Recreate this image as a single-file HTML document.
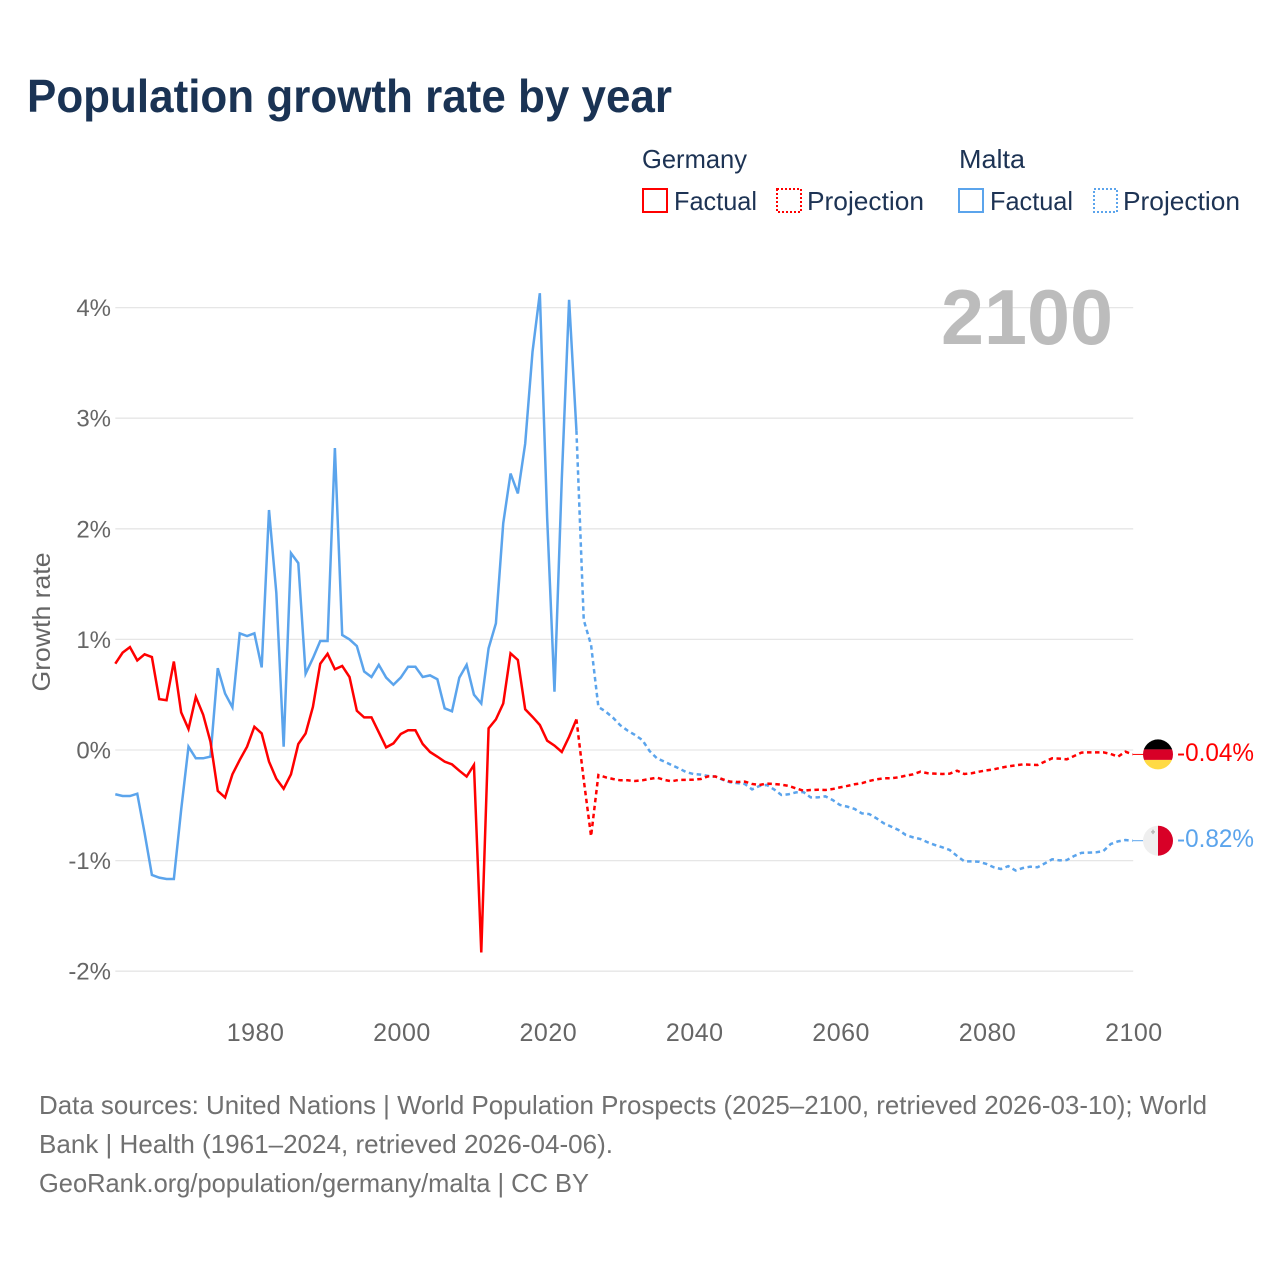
<!DOCTYPE html>
<html lang="en">
<head>
<meta charset="utf-8">
<title>Population growth rate by year</title>
<style>
  html, body { margin: 0; padding: 0; background: #fff; }
  svg { display: block; font-family: "Liberation Sans", sans-serif; }
  .legend-text { font-size: 26px; fill: #1d3354; }
  .source { font-size: 26px; fill: #707070; }
  .tick { font-size: 25px; fill: #666; letter-spacing: 0.5px; }
  .tick-y { font-size: 24px; fill: #666; }
</style>
</head>
<body>
<svg id="chart" width="1280" height="1280" viewBox="0 0 1280 1280" xmlns="http://www.w3.org/2000/svg">
  <text x="27" y="112" font-size="46" font-weight="700" fill="#1a3354" textLength="645" lengthAdjust="spacingAndGlyphs">Population growth rate by year</text>

  <g>
    <text class="legend-text" x="642" y="168" textLength="105" lengthAdjust="spacingAndGlyphs">Germany</text>
    <text class="legend-text" x="959" y="168" textLength="66" lengthAdjust="spacingAndGlyphs">Malta</text>

    <rect x="643" y="189" width="24" height="23" fill="none" stroke="#ff0000" stroke-width="2"/>
    <text class="legend-text" x="674" y="210" textLength="83" lengthAdjust="spacingAndGlyphs">Factual</text>
    <rect x="777" y="189" width="24" height="23" fill="none" stroke="#ff0000" stroke-width="2" stroke-dasharray="2 2"/>
    <text class="legend-text" x="807" y="210" textLength="117" lengthAdjust="spacingAndGlyphs">Projection</text>

    <rect x="959" y="189" width="24" height="23" fill="none" stroke="#5ba4ec" stroke-width="2"/>
    <text class="legend-text" x="990" y="210" textLength="83" lengthAdjust="spacingAndGlyphs">Factual</text>
    <rect x="1094" y="189" width="23" height="23" fill="none" stroke="#5ba4ec" stroke-width="2" stroke-dasharray="2 2"/>
    <text class="legend-text" x="1123" y="210" textLength="117" lengthAdjust="spacingAndGlyphs">Projection</text>
  </g>

  <text x="42" y="622" font-size="25" fill="#666" text-anchor="middle" transform="rotate(-90 42 622) translate(0 8)" textLength="139" lengthAdjust="spacingAndGlyphs">Growth rate</text>

  <g id="grid"></g>
  <g id="y-axis"></g>
  <g id="x-axis"></g>

  <text x="941" y="344" font-size="78" font-weight="700" fill="#bcbcbc" textLength="172" lengthAdjust="spacingAndGlyphs">2100</text>

  <g id="series"></g>

  <g id="flag-germany">
    <clipPath id="clip-de"><circle cx="1158" cy="0" r="15"/></clipPath>
    <g clip-path="url(#clip-de)">
      <rect x="1143" y="-16" width="30" height="11" fill="#000000"/>
      <rect x="1143" y="-5" width="30" height="10.5" fill="#d80027"/>
      <rect x="1143" y="5.5" width="30" height="11" fill="#ffda44"/>
    </g>
  </g>
  <g id="flag-malta">
    <clipPath id="clip-mt"><circle cx="1158" cy="0" r="15"/></clipPath>
    <g clip-path="url(#clip-mt)">
      <rect x="1143" y="-16" width="15" height="32" fill="#efefef"/>
      <rect x="1158" y="-16" width="15" height="32" fill="#d80027"/>
      <rect x="1151" y="-9.5" width="4" height="1.4" fill="#b5b5b5"/>
      <rect x="1152.3" y="-11" width="1.4" height="4.4" fill="#b5b5b5"/>
    </g>
  </g>
  <text id="end-label-germany" x="1177" font-size="25" fill="#ff0000" textLength="77" lengthAdjust="spacingAndGlyphs">-0.04%</text>
  <text id="end-label-malta" x="1177" font-size="25" fill="#5ba4ec" textLength="77" lengthAdjust="spacingAndGlyphs">-0.82%</text>

  <g>
    <text class="source" x="39" y="1114" textLength="1168" lengthAdjust="spacingAndGlyphs">Data sources: United Nations | World Population Prospects (2025–2100, retrieved 2026-03-10); World</text>
    <text class="source" x="39" y="1153" textLength="574" lengthAdjust="spacingAndGlyphs">Bank | Health (1961–2024, retrieved 2026-04-06).</text>
    <text class="source" x="39" y="1192" textLength="550" lengthAdjust="spacingAndGlyphs">GeoRank.org/population/germany/malta | CC BY</text>
  </g>
</svg>

<script>
const firstFactualYear = 1961;
const firstProjectionYear = 2024;
const yTickValues = [4, 3, 2, 1, 0, -1, -2];
const yTickLabels = ["4%", "3%", "2%", "1%", "0%", "-1%", "-2%"];
const xTickValues = [1980, 2000, 2020, 2040, 2060, 2080, 2100];
const xTickLabels = ["1980", "2000", "2020", "2040", "2060", "2080", "2100"];

const germanyFactual = [
  0.78, 0.88, 0.93, 0.81, 0.865, 0.84, 0.46, 0.45, 0.80, 0.34,
  0.19, 0.48, 0.32, 0.075, -0.37, -0.43, -0.22, -0.09, 0.03, 0.21,
  0.15, -0.105, -0.26, -0.35, -0.22, 0.054, 0.15, 0.39, 0.78, 0.87,
  0.73, 0.76, 0.66, 0.355, 0.295, 0.295, 0.16, 0.024, 0.06, 0.145,
  0.178, 0.178, 0.054, -0.018, -0.06, -0.105, -0.13, -0.187, -0.24, -0.135,
  -1.83, 0.196, 0.277, 0.42, 0.874, 0.814, 0.368, 0.30, 0.226, 0.084,
  0.04, -0.018, 0.12, 0.277
];
const germanyProjection = [
  0.277, -0.27, -0.78, -0.226, -0.247, -0.262, -0.274, -0.274, -0.28, -0.274,
  -0.262, -0.25, -0.27, -0.283, -0.27, -0.27, -0.268, -0.262, -0.238, -0.24,
  -0.265, -0.286, -0.289, -0.286, -0.307, -0.316, -0.304, -0.307, -0.313, -0.325,
  -0.347, -0.368, -0.362, -0.359, -0.362, -0.353, -0.338, -0.325, -0.31, -0.30,
  -0.28, -0.265, -0.256, -0.256, -0.247, -0.232, -0.22, -0.196, -0.21, -0.214,
  -0.217, -0.214, -0.187, -0.217, -0.21, -0.196, -0.184, -0.175, -0.16, -0.148,
  -0.139, -0.13, -0.133, -0.136, -0.105, -0.075, -0.078, -0.084, -0.054, -0.024,
  -0.021, -0.021, -0.021, -0.036, -0.06, -0.015, -0.04
];
const maltaFactual = [
  -0.40, -0.416, -0.416, -0.395, -0.75, -1.13, -1.154, -1.166, -1.166, -0.54,
  0.03, -0.075, -0.075, -0.06, 0.74, 0.51, 0.386, 1.055, 1.03, 1.055,
  0.747, 2.17, 1.42, 0.03, 1.78, 1.69, 0.69, 0.83, 0.985, 0.985,
  2.73, 1.04, 1.0, 0.94, 0.71, 0.66, 0.77, 0.655, 0.59, 0.655,
  0.753, 0.753, 0.66, 0.675, 0.64, 0.377, 0.35, 0.654, 0.77, 0.5,
  0.42, 0.92, 1.145, 2.05, 2.50, 2.32, 2.77, 3.60, 4.13, 2.10,
  0.527, 2.45, 4.07, 2.89
];
const maltaProjection = [
  2.89, 1.175, 0.95, 0.39, 0.347, 0.292, 0.223, 0.175, 0.136, 0.09,
  -0.01, -0.075, -0.105, -0.136, -0.166, -0.2, -0.217, -0.223, -0.235, -0.24,
  -0.27, -0.292, -0.30, -0.307, -0.356, -0.325, -0.316, -0.356, -0.407, -0.40,
  -0.383, -0.38, -0.428, -0.428, -0.419, -0.452, -0.497, -0.512, -0.533, -0.573,
  -0.579, -0.618, -0.663, -0.693, -0.723, -0.768, -0.79, -0.805, -0.835, -0.859,
  -0.88, -0.904, -0.958, -1.007, -1.007, -1.01, -1.03, -1.06, -1.076, -1.05,
  -1.09, -1.067, -1.055, -1.06, -1.025, -0.988, -0.998, -0.995, -0.958, -0.93,
  -0.928, -0.925, -0.913, -0.85, -0.826, -0.814, -0.82
];

const NS = "http://www.w3.org/2000/svg";
const xLeft = 115.3, xRight = 1132.7, yearMin = 1961, yearMax = 2100;
const yZero = 750, yPerUnit = 110.6;

function xScale(year) {
  return xLeft + (year - yearMin) * (xRight - xLeft) / (yearMax - yearMin);
}
function yScale(value) {
  return yZero - value * yPerUnit;
}

const grid = document.getElementById("grid");
const yAxis = document.getElementById("y-axis");
const xAxis = document.getElementById("x-axis");
const seriesGroup = document.getElementById("series");

yTickValues.forEach(function (v, i) {
  const line = document.createElementNS(NS, "line");
  
  
  line.setAttribute("x1", xLeft);
  line.setAttribute("x2", xRight + 0.5);
  line.setAttribute("y1", yScale(v));
  line.setAttribute("y2", yScale(v));
  line.setAttribute("stroke", "#e6e6e6");
  line.setAttribute("stroke-width", "1.3");
  grid.appendChild(line);

  const label = document.createElementNS(NS, "text");
  
  
  label.setAttribute("class", "tick-y");
  label.setAttribute("x", 111);
  label.setAttribute("y", yScale(v) + 8.5);
  label.setAttribute("text-anchor", "end");
  label.textContent = yTickLabels[i];
  yAxis.appendChild(label);
});

xTickValues.forEach(function (year, i) {
  const label = document.createElementNS(NS, "text");
  
  
  label.setAttribute("class", "tick");
  label.setAttribute("x", xScale(year) + 1.2);
  label.setAttribute("y", 1041);
  label.setAttribute("text-anchor", "middle");
  label.textContent = xTickLabels[i];
  xAxis.appendChild(label);
});

function linePoints(values, startYear) {
  return values.map(function (v, i) {
    return xScale(startYear + i).toFixed(2) + "," + yScale(v).toFixed(2);
  }).join(" ");
}

function drawLine(values, startYear, color, dashed, name) {
  const line = document.createElementNS(NS, "polyline");
  
  
  line.setAttribute("points", linePoints(values, startYear));
  line.setAttribute("fill", "none");
  line.setAttribute("stroke", color);
  line.setAttribute("stroke-width", "2.5");
  if (dashed) {
    line.setAttribute("stroke-dasharray", "4.5 3.5");
  }
  seriesGroup.appendChild(line);
}

drawLine(maltaFactual, firstFactualYear, "#5ba4ec", false, "malta-factual-line");
drawLine(maltaProjection, firstProjectionYear, "#5ba4ec", true, "malta-projection-line");
drawLine(germanyFactual, firstFactualYear, "#ff0000", false, "germany-factual-line");
drawLine(germanyProjection, firstProjectionYear, "#ff0000", true, "germany-projection-line");

function drawEnd(values, color, flagId, labelId, name) {
  const last = yScale(values[values.length - 1]);
  const leader = document.createElementNS(NS, "line");
  
  
  leader.setAttribute("x1", xRight);
  leader.setAttribute("x2", 1144);
  leader.setAttribute("y1", last);
  leader.setAttribute("y2", last);
  leader.setAttribute("stroke", color);
  leader.setAttribute("stroke-width", "1");
  seriesGroup.appendChild(leader);
  document.getElementById(flagId).setAttribute("transform", "translate(0 " + last + ")");
  document.getElementById(labelId).setAttribute("y", last + 6.5);
}

drawEnd(germanyProjection, "#ff0000", "flag-germany", "end-label-germany", "germany-leader-line");
drawEnd(maltaProjection, "#5ba4ec", "flag-malta", "end-label-malta", "malta-leader-line");
</script>
</body>
</html>
